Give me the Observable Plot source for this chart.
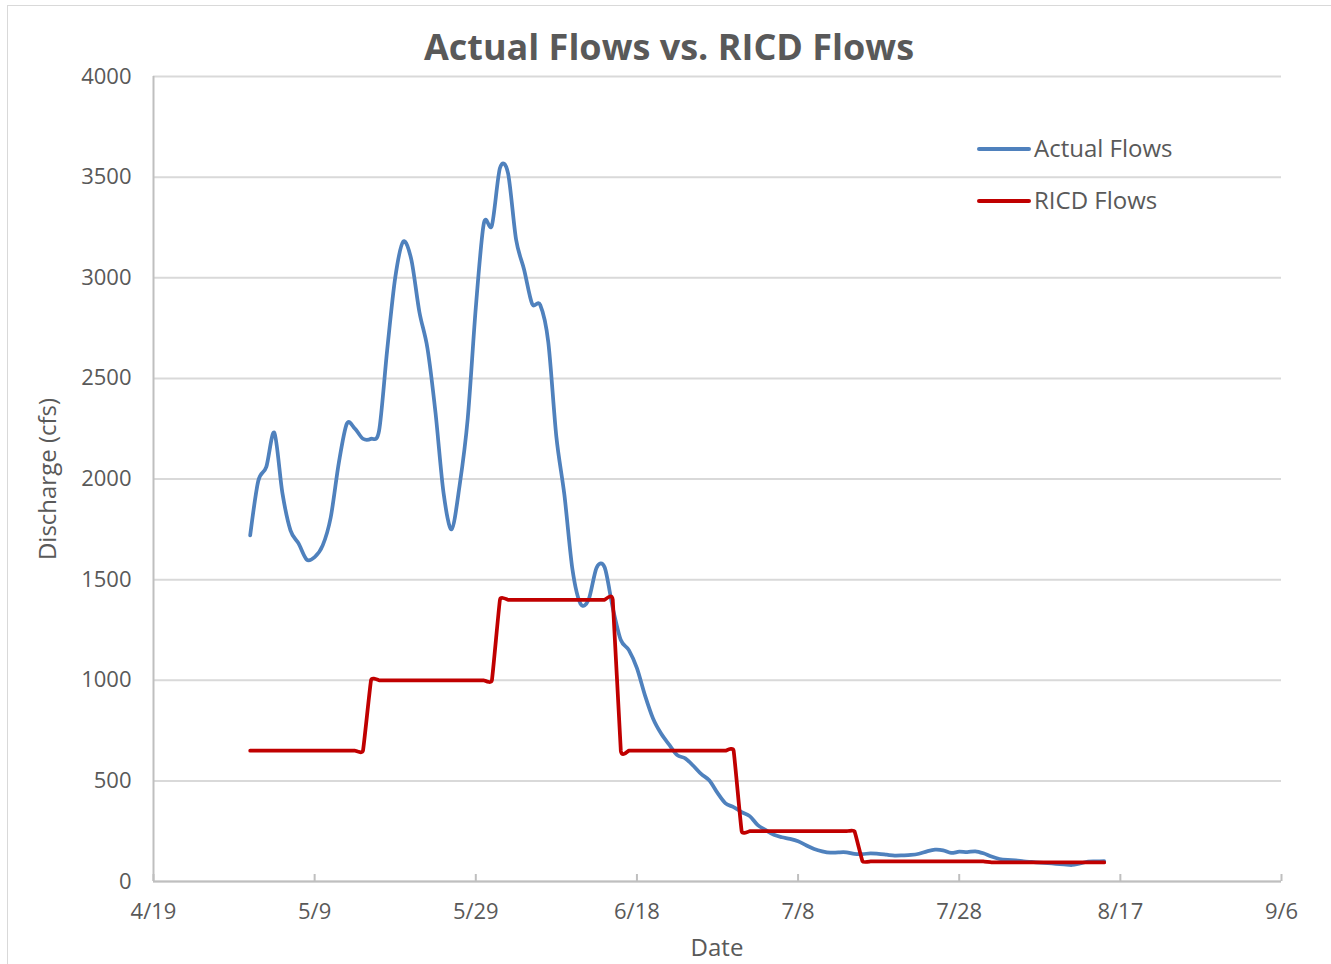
<!DOCTYPE html>
<html>
<head>
<meta charset="utf-8">
<script src="https://cdn.jsdelivr.net/npm/d3@7"></script>
<script src="https://cdn.jsdelivr.net/npm/@observablehq/plot@0.6"></script>
<style>
  html, body { margin: 0; padding: 0; background: #fff; }
  #wrap { position: relative; width: 1331px; height: 964px; overflow: hidden; font-family: "Open Sans", sans-serif; color: #595959; }
  #frame { position: absolute; left: 7px; top: 5px; width: 1400px; height: 1000px; border-left: 1.5px solid #d9d9d9; border-top: 1.5px solid #d9d9d9; box-sizing: border-box; }
  #chart { position: absolute; left: 0; top: 0; }
  #title { position: absolute; left: 7px; width: 1324px; top: 22px; text-align: center; font-size: 36px; font-weight: 700; line-height: 50px; color: #595959; }
  .lab { position: absolute; font-size: 24px; line-height: 30px; white-space: nowrap; color: #595959; }
  .leg { position: absolute; left: 977px; width: 54px; height: 4px; border-radius: 2px; }
</style>
</head>
<body>
<div id="wrap">
  <div id="frame"></div>
  <div id="chart"></div>
  <div id="title">Actual Flows vs. RICD Flows</div>
  <div class="lab" id="xlab" style="left:667px; width:100px; text-align:center; top:932px;">Date</div>
  <div class="lab" id="ylab" style="left:-53px; width:200px; text-align:center; top:464px; transform: rotate(-90deg);">Discharge (cfs)</div>
  <div class="leg" style="top:147px; background:#4f81bd;"></div>
  <div class="lab" style="left:1034px; top:133px;">Actual Flows</div>
  <div class="leg" style="top:199px; background:#c00000;"></div>
  <div class="lab" style="left:1034px; top:185px;">RICD Flows</div>
</div>
<script>
// ---- data ----
const seriesNames = ["Actual Flows", "RICD Flows"];
const firstDate = "2015-05-01"; // daily values from May 1 to Aug 15

const actualFlows = [
  // May 1 - May 31
  1720, 1990, 2060, 2230, 1930, 1745, 1680, 1600, 1612, 1670,
  1810, 2080, 2275, 2250, 2200, 2200, 2240, 2640, 3000, 3180,
  3090, 2830, 2650, 2330, 1930, 1750, 1970, 2300, 2850, 3270,
  3260,
  // Jun 1 - Jun 30
  3545, 3520, 3190, 3040, 2870, 2865, 2680, 2210, 1920, 1550,
  1380, 1400, 1560, 1560, 1360, 1200, 1150, 1060, 925, 810,
  735, 680, 628, 612, 575, 533, 502, 440, 388, 370,
  // Jul 1 - Jul 31
  345, 325, 280, 255, 232, 220, 212, 200, 180, 162,
  150, 143, 145, 145, 137, 136, 140, 137, 133, 129,
  130, 132, 138, 150, 158, 155, 142, 148, 146, 150,
  140,
  // Aug 1 - Aug 15
  124, 112, 107, 105, 100, 97, 94, 91, 88, 85,
  82, 90, 99, 100, 101
];

const ricdFlows = [
  // May 1 - May 31
  650, 650, 650, 650, 650, 650, 650, 650, 650, 650,
  650, 650, 650, 650, 650, 1000, 1000, 1000, 1000, 1000,
  1000, 1000, 1000, 1000, 1000, 1000, 1000, 1000, 1000, 1000,
  1000,
  // Jun 1 - Jun 30
  1400, 1400, 1400, 1400, 1400, 1400, 1400, 1400, 1400, 1400,
  1400, 1400, 1400, 1400, 1400, 650, 650, 650, 650, 650,
  650, 650, 650, 650, 650, 650, 650, 650, 650, 650,
  // Jul 1 - Jul 31
  250, 250, 250, 250, 250, 250, 250, 250, 250, 250,
  250, 250, 250, 250, 250, 100, 100, 100, 100, 100,
  100, 100, 100, 100, 100, 100, 100, 100, 100, 100,
  100,
  // Aug 1 - Aug 15
  95, 95, 95, 95, 95, 95, 95, 95, 95, 95,
  95, 95, 95, 95, 95
];

const xTickDates = ["2015-04-19", "2015-05-09", "2015-05-29", "2015-06-18", "2015-07-08", "2015-07-28", "2015-08-17", "2015-09-06"];
const xTickLabels = ["4/19", "5/9", "5/29", "6/18", "7/8", "7/28", "8/17", "9/6"];
const yTicks = [0, 500, 1000, 1500, 2000, 2500, 3000, 3500, 4000];

// ---- build ----
const parse = d3.utcParse("%Y-%m-%d");
const start = parse(firstDate);
const xTicks = xTickDates.map(parse);
const actual = actualFlows.map((v, i) => ({date: d3.utcDay.offset(start, i), value: v}));
const ricd = ricdFlows.map((v, i) => ({date: d3.utcDay.offset(start, i), value: v}));
const labelFor = d => xTickLabels[xTicks.findIndex(t => +t === +d)];

const chart = Plot.plot({
  width: 1331,
  height: 964,
  marginLeft: 153,
  marginRight: 50,
  marginTop: 76,
  marginBottom: 83,
  style: {background: "transparent", fontFamily: "'Open Sans', sans-serif", fontSize: "22px", color: "#595959"},
  x: {type: "utc", domain: [xTicks[0], xTicks[xTicks.length - 1]]},
  y: {domain: [0, 4000]},
  marks: [
    Plot.gridY(yTicks, {stroke: "#d9d9d9", strokeOpacity: 1, strokeWidth: 2}),
    Plot.ruleY([0], {stroke: "#bfbfbf", strokeWidth: 2}),
    Plot.ruleX([xTicks[0]], {stroke: "#bfbfbf", strokeWidth: 2}),
    Plot.ruleX(xTicks, {stroke: "#bfbfbf", strokeWidth: 2, insetTop: 798}),
    Plot.axisY(yTicks, {tickSize: 0, tickPadding: 22, fontSize: 22, fill: "#595959", label: null, tickFormat: d => String(d)}),
    Plot.axisX(xTicks, {tickSize: 0, tickPadding: 22, fontSize: 22, fill: "#595959", label: null, tickFormat: labelFor}),
    Plot.line(actual, {x: "date", y: "value", stroke: "#4f81bd", strokeWidth: 3.75, curve: "cardinal", tension: 0.1}),
    Plot.line(ricd, {x: "date", y: "value", stroke: "#c00000", strokeWidth: 3.75, curve: "cardinal", tension: 0.7})
  ]
});
document.getElementById("chart").appendChild(chart);
</script>
</body>
</html>
